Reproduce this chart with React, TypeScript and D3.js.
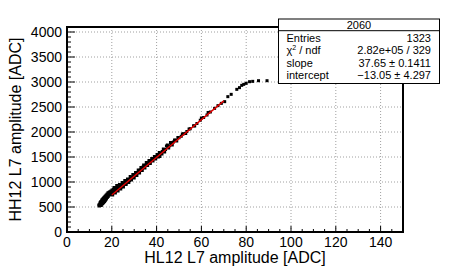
import React from "react";
import * as d3 from "d3";

// points (HL12 L7 amplitude, HH12 L7 amplitude)
const points: [number, number][] = [
  [14.2, 540], [14.4, 520], [14.6, 560], [14.8, 590], [14.9, 530], [15.0, 545], [15.1, 610],
  [15.2, 575], [15.3, 530], [15.4, 600], [15.5, 640], [15.6, 555], [15.7, 585], [15.8, 620],
  [15.9, 660], [16.0, 570], [16.1, 600], [16.2, 640], [16.3, 680], [16.4, 590], [16.5, 620],
  [16.6, 660], [16.7, 700], [16.8, 610], [16.9, 645], [17.0, 680], [17.1, 720], [17.2, 635],
  [17.3, 670], [17.4, 705], [17.5, 740], [17.6, 660], [17.7, 695], [17.8, 730], [17.9, 760],
  [18.0, 690], [18.1, 720], [18.2, 750], [18.3, 785], [18.4, 710], [18.5, 745], [18.6, 775],
  [18.8, 740], [18.9, 800], [19.0, 770], [19.2, 745], [19.3, 800], [19.5, 780], [19.6, 820],
  [19.8, 760], [20.0, 800], [20.1, 840], [20.3, 785], [20.5, 820], [20.7, 855], [20.9, 800],
  [21.1, 840], [21.3, 870], [21.5, 825], [21.8, 860], [22.0, 890], [22.3, 845], [22.6, 880],
  [22.9, 910], [23.2, 870], [23.5, 900], [23.8, 935], [24.1, 895], [24.4, 925], [24.8, 960],
  [25.1, 930], [25.5, 965], [25.9, 995], [26.3, 970], [26.7, 1010], [27.1, 1000], [27.5, 1045],
  [27.9, 1030], [28.3, 1070], [28.7, 1055], [29.1, 1095], [29.6, 1105], [30.0, 1125],
  [30.4, 1145], [30.9, 1155], [31.3, 1185], [31.8, 1195], [32.2, 1215], [32.7, 1240],
  [33.2, 1255], [33.6, 1280], [34.0, 1305], [34.5, 1290], [35.0, 1335], [35.5, 1350],
  [36.0, 1365], [36.5, 1395], [37.0, 1400], [37.6, 1430], [38.2, 1445], [38.8, 1470],
  [39.4, 1485], [40.0, 1505], [40.6, 1535], [41.5, 1510], [42.0, 1575], [42.5, 1610],
  [43.2, 1625], [44.0, 1650], [44.4, 1720], [45.0, 1695], [45.8, 1725], [46.6, 1755],
  [47.5, 1800], [48.5, 1835], [50.0, 1885], [51.0, 1915], [52.0, 1965], [53.5, 2010],
  [55.0, 2065], [56.5, 2125], [58.0, 2170], [59.5, 2235], [61.0, 2290], [62.5, 2340],
  [64.0, 2400], [65.9, 2473], [67.4, 2527], [68.9, 2573], [70.4, 2607], [71.8, 2707],
  [73.3, 2753], [75.8, 2853], [77.0, 2887], [78.0, 2933], [78.9, 2953], [80.0, 2973],
  [81.5, 3006], [82.9, 3013], [85.5, 3026], [89.3, 3026],
  // spread either side of the band
  [20.4, 740], [21.0, 890], [21.6, 780], [22.2, 930], [22.8, 820], [23.4, 950], [24.0, 860],
  [24.6, 990], [25.2, 900], [25.8, 1030], [26.4, 950], [27.0, 1060], [27.6, 990], [28.2, 1110],
  [28.8, 1040], [29.4, 1150], [30.0, 1080], [30.6, 1190], [31.2, 1130], [31.8, 1240],
  [32.4, 1180], [33.0, 1290], [33.6, 1230], [34.2, 1340], [34.8, 1280], [35.4, 1390],
  [36.0, 1330], [36.6, 1430], [37.2, 1370], [37.8, 1470], [38.4, 1420], [39.0, 1510],
  [39.6, 1460], [40.2, 1550], [40.8, 1500], [41.2, 1590], [42.4, 1560], [43.0, 1660],
  [43.6, 1600], [44.8, 1740], [45.4, 1680], [46.2, 1790], [47.0, 1740], [48.0, 1840],
  [49.0, 1820], [49.5, 1890], [51.5, 1960], [53.0, 1970], [54.5, 2060], [57.0, 2120],
  [60.0, 2280], [63.0, 2390],
];

// linear fit
const slope = 37.65;
const intercept = -13.05;
const fitRange = [20, 70];

const xTicks = [0, 20, 40, 60, 80, 100, 120, 140];
const yTicks = [0, 500, 1000, 1500, 2000, 2500, 3000, 3500, 4000];

const statsRows = [
  ["Entries", "1323"],
  ["chi2", "2.82e+05 / 329"],
  ["slope", "37.65 \u00b1 0.1411"],
  ["intercept", "\u221213.05 \u00b1 4.297"],
];

const W = 449, H = 274;
const L = 67, R = 403, T = 27, B = 232;
const font = "'Liberation Sans', Arial, Helvetica, sans-serif";

export default function App() {
  const x = d3.scaleLinear().domain([0, 150]).range([L, R]);
  const y = d3.scaleLinear().domain([0, 4100]).range([B, T]);

  const xMinor = d3.range(0, 151, 5).filter(v => v % 20 !== 0);
  const yMinor = d3.range(0, 4101, 100).filter(v => v % 500 !== 0);

  const fitLine = d3.line<number>().x(v => x(v)).y(v => y(slope * v + intercept));

  const bx = 278.5, bw = 161, by = 19, rowH = 12.6;

  return (
    <svg width={W} height={H} style={{ position: "absolute", left: 0, top: 0 }} fontFamily={font}>
      <rect width={W} height={H} fill="#fff" />
      {/* grid */}
      {xTicks.filter(v => v > 0).map(v => (
        <line key={"gx" + v} x1={x(v)} x2={x(v)} y1={T} y2={B} stroke="#888" strokeWidth={0.8} strokeDasharray="1,2" />
      ))}
      {yTicks.filter(v => v > 0).map(v => (
        <line key={"gy" + v} x1={L} x2={R} y1={y(v)} y2={y(v)} stroke="#888" strokeWidth={0.8} strokeDasharray="1,2" />
      ))}
      {/* points */}
      {points.map(([px, py], i) => (
        <rect key={"p" + i} x={x(px) - 1.5} y={y(py) - 1.5} width={3} height={3} fill="#000" />
      ))}
      {/* fit */}
      <path d={fitLine(fitRange) ?? ""} stroke="#e00000" strokeWidth={1.4} fill="none" />
      {/* ticks */}
      {xTicks.map(v => (
        <line key={"tx" + v} x1={x(v)} x2={x(v)} y1={B} y2={B - 6} stroke="#000" />
      ))}
      {xMinor.map(v => (
        <line key={"mx" + v} x1={x(v)} x2={x(v)} y1={B} y2={B - 3} stroke="#000" />
      ))}
      {yTicks.map(v => (
        <line key={"ty" + v} x1={L} x2={L + 8} y1={y(v)} y2={y(v)} stroke="#000" />
      ))}
      {yMinor.map(v => (
        <line key={"my" + v} x1={L} x2={L + 4} y1={y(v)} y2={y(v)} stroke="#000" />
      ))}
      {/* frame */}
      <rect x={L} y={T} width={R - L} height={B - T} fill="none" stroke="#000" strokeWidth={2} />
      {/* tick labels */}
      {xTicks.map(v => (
        <text key={"lx" + v} x={x(v)} y={247} fontSize={14} textAnchor="middle">{v}</text>
      ))}
      {yTicks.map(v => (
        <text key={"ly" + v} x={62} y={y(v) + 5} fontSize={14} textAnchor="end">{v}</text>
      ))}
      {/* axis titles */}
      <text x={(L + R) / 2} y={263} fontSize={16} textAnchor="middle">HL12 L7 amplitude [ADC]</text>
      <text transform={`translate(21,${(T + B) / 2}) rotate(-90)`} fontSize={16} textAnchor="middle">HH12 L7 amplitude [ADC]</text>
      {/* stats box */}
      <rect x={bx} y={by} width={bw} height={64.5} fill="#fff" stroke="#000" strokeWidth={1} />
      <line x1={bx} x2={bx + bw} y1={30.7} y2={30.7} stroke="#000" strokeWidth={1} />
      <text x={bx + bw / 2} y={29} fontSize={11} textAnchor="middle">2060</text>
      {statsRows.map(([k, v], i) => (
        <g key={"s" + i} fontSize={11}>
          {k === "chi2" ? (
            <text x={286.5} y={41.5 + i * rowH}>
              {"\u03c7"}<tspan fontSize={7} dy={-4}>2</tspan><tspan dy={4}>{" / ndf"}</tspan>
            </text>
          ) : (
            <text x={286.5} y={41.5 + i * rowH}>{k}</text>
          )}
          <text x={431} y={41.5 + i * rowH} textAnchor="end">{v}</text>
        </g>
      ))}
    </svg>
  );
}
